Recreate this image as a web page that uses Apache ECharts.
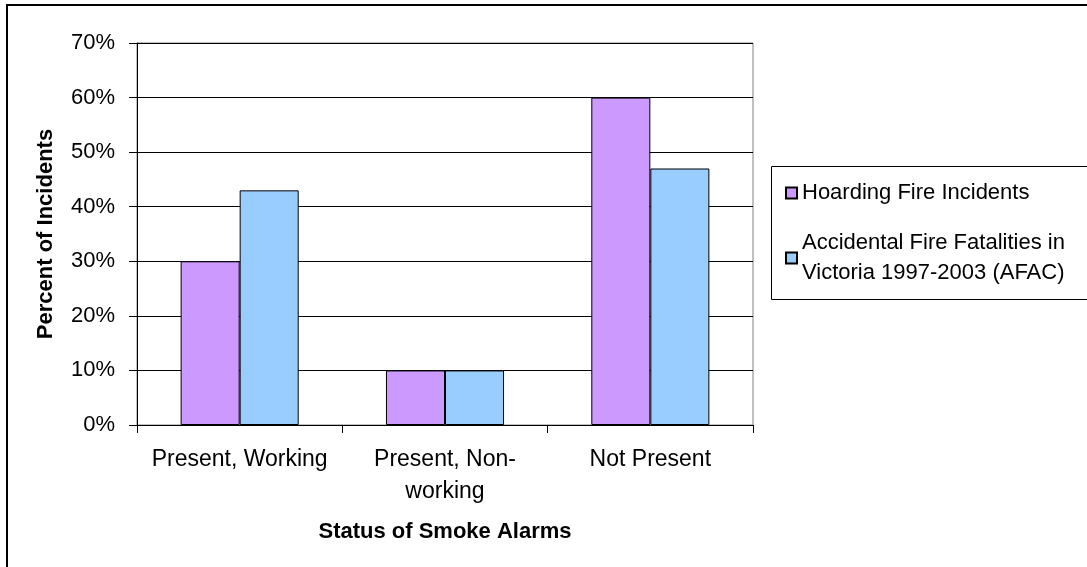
<!DOCTYPE html>
<html>
<head>
<meta charset="utf-8">
<script src="https://cdn.jsdelivr.net/npm/echarts@6/dist/echarts.min.js"></script>
<style>
html,body{margin:0;padding:0;background:#fff;}
#c{width:1087px;height:567px;}
</style>
</head>
<body>
<div id="c"></div>
<script>
const categories = ['Present, Working', 'Present, Non-\nworking', 'Not Present'];
const seriesNames = ['Hoarding Fire Incidents', 'Accidental Fire Fatalities in Victoria 1997-2003 (AFAC)'];
const hoarding = [30, 10, 60];
const afac = [43, 10, 47];
const yTicks = [0, 10, 20, 30, 40, 50, 60, 70];

const FONT = '"Liberation Sans", Arial, sans-serif';
const chart = echarts.init(document.getElementById('c'), null, {renderer: 'canvas'});

chart.setOption({
  animation: false,
  backgroundColor: '#ffffff',
  textStyle: {fontFamily: FONT},
  graphic: [
    {type: 'rect', shape: {x: 7, y: 5, width: 1200, height: 700}, style: {fill: 'none', stroke: '#000', lineWidth: 2}, z: 0},
    {type: 'rect', shape: {x: 771.5, y: 166.5, width: 400, height: 133}, style: {fill: '#fff', stroke: '#000', lineWidth: 1}, z: 0}
  ],
  grid: {left: 137, right: 334, top: 43, bottom: 142, show: true, borderColor: '#808080', borderWidth: 1},
  legend: {
    orient: 'vertical',
    left: 780,
    top: 173,
    itemWidth: 11,
    itemHeight: 11,
    itemGap: 5,
    icon: 'rect',
    textStyle: {fontFamily: FONT, fontSize: 22, color: '#000', lineHeight: 30},
    data: [
      {name: seriesNames[0]},
      {name: seriesNames[1], textStyle: {padding: [30, 0, 0, 0]}}
    ],
    formatter: function (n) {
      return n === seriesNames[1] ? 'Accidental Fire Fatalities in\nVictoria 1997-2003 (AFAC)' : n;
    }
  },
  xAxis: {
    type: 'category',
    data: categories,
    axisLine: {lineStyle: {color: '#000', width: 1}},
    axisTick: {show: true, length: 8, lineStyle: {color: '#000'}},
    axisLabel: {interval: 0, fontFamily: FONT, fontSize: 23, color: '#000', margin: 19, lineHeight: 32},
    name: 'Status of Smoke Alarms',
    nameLocation: 'middle',
    nameGap: 96,
    nameTextStyle: {fontFamily: FONT, fontSize: 22, fontWeight: 'bold', color: '#000'}
  },
  yAxis: {
    type: 'value',
    min: 0,
    max: 70,
    interval: 10,
    axisLine: {show: true, lineStyle: {color: '#000', width: 1}},
    axisTick: {show: true, length: 8, lineStyle: {color: '#000'}},
    axisLabel: {fontFamily: FONT, fontSize: 22, color: '#000', margin: 22, formatter: v => v + '%'},
    splitLine: {show: true, lineStyle: {color: '#000', width: 1}},
    name: 'Percent of Incidents',
    nameLocation: 'middle',
    nameGap: 80,
    nameTextStyle: {fontFamily: FONT, fontSize: 22, fontWeight: 'bold', color: '#000'}
  },
  series: [
    {
      name: seriesNames[0], type: 'bar', data: hoarding,
      barGap: '0%', barCategoryGap: '42.5%',
      itemStyle: {color: '#CC99FF', borderColor: '#000', borderWidth: 1}
    },
    {
      name: seriesNames[1], type: 'bar', data: afac,
      barGap: '0%', barCategoryGap: '42.5%',
      itemStyle: {color: '#99CCFF', borderColor: '#000', borderWidth: 1}
    }
  ]
});
</script>
</body>
</html>
